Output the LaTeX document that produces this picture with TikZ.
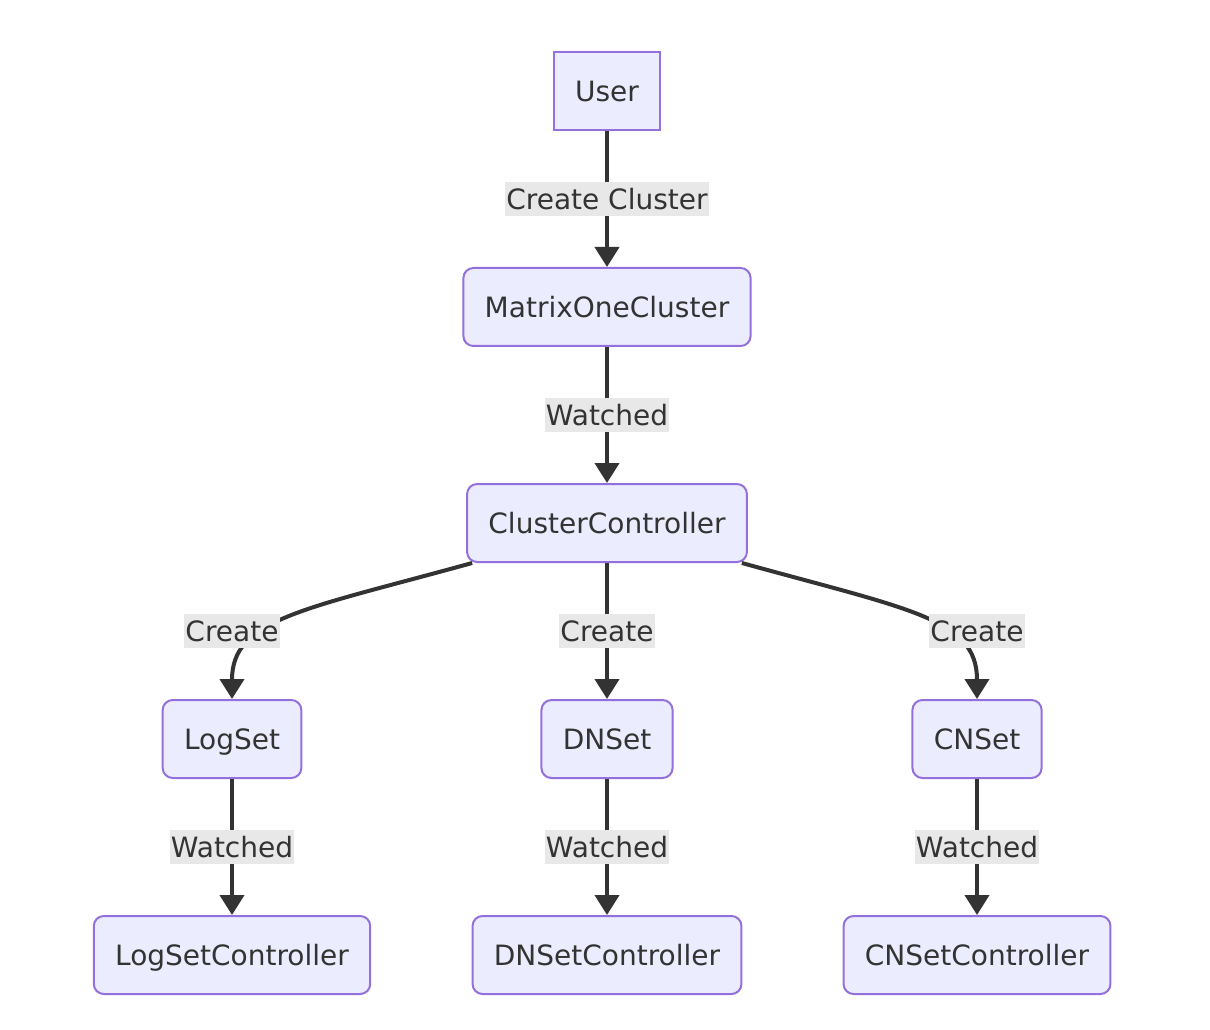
\documentclass[tikz,border=0pt]{standalone}
\usepackage{fontspec}
\setmainfont{DejaVu Sans}
\usetikzlibrary{arrows.meta}
\definecolor{boxfill}{HTML}{ECECFF}
\definecolor{boxline}{HTML}{9370DB}
\definecolor{ink}{HTML}{333333}
\definecolor{lblbg}{HTML}{E8E8E8}
\tikzset{
  box/.style={draw=boxline, fill=boxfill, line width=1.5pt, rounded corners=7.5pt,
    inner xsep=16pt, minimum height=58.5pt, text height=17.75pt, text depth=2.25pt,
    text=ink, font=\fontsize{21pt}{25pt}\selectfont},
  sqbox/.style={box, sharp corners},
  edge/.style={draw=ink, line width=3pt, -{Triangle[width=18pt,length=15pt]}},
  lbl/.style={fill=lblbg, text=ink, inner xsep=1pt, inner ysep=0pt, minimum height=26pt,
    text height=17.75pt, text depth=2.25pt, font=\fontsize{21pt}{25pt}\selectfont}
}

\begin{document}
\begin{tikzpicture}[x=0.75pt,y=0.75pt,yscale=-1,xscale=1]
\useasboundingbox (0,0) rectangle (1210,1030);

% Nodes
\node[sqbox] (user) at (607,91) {User};
\node[box] (moc) at (607,307) {MatrixOneCluster};
\node[box] (cc) at (607,523) {ClusterController};
\node[box] (log) at (232,739) {LogSet};
\node[box] (dn) at (607,739) {DNSet};
\node[box] (cn) at (977,739) {CNSet};
\node[box] (logc) at (232,955) {LogSetController};
\node[box] (dnc) at (607,955) {DNSetController};
\node[box] (cnc) at (977,955) {CNSetController};

% Straight edges
\draw[edge] (user) -- node[lbl] {Create Cluster} (moc);
\draw[edge] (moc) -- node[lbl] {Watched} (cc);
\draw[edge] (cc) -- node[lbl] (dnlbl) {Create} (dn);

% Curved edges
\draw[edge] ([xshift=4.5pt]cc.south west) .. controls +(-170,47) and +(0,-80) .. (log.north);
\draw[edge] ([xshift=-4.5pt]cc.south east) .. controls +(170,47) and +(0,-80) .. (cn.north);
\node[lbl] (loglbl) at (log |- dnlbl) {Create};
\node[lbl] (cnlbl) at (cn |- dnlbl) {Create};

% Watched edges
\draw[edge] (log) -- node[lbl] {Watched} (logc);
\draw[edge] (dn) -- node[lbl] {Watched} (dnc);
\draw[edge] (cn) -- node[lbl] {Watched} (cnc);

\end{tikzpicture}
\end{document}
